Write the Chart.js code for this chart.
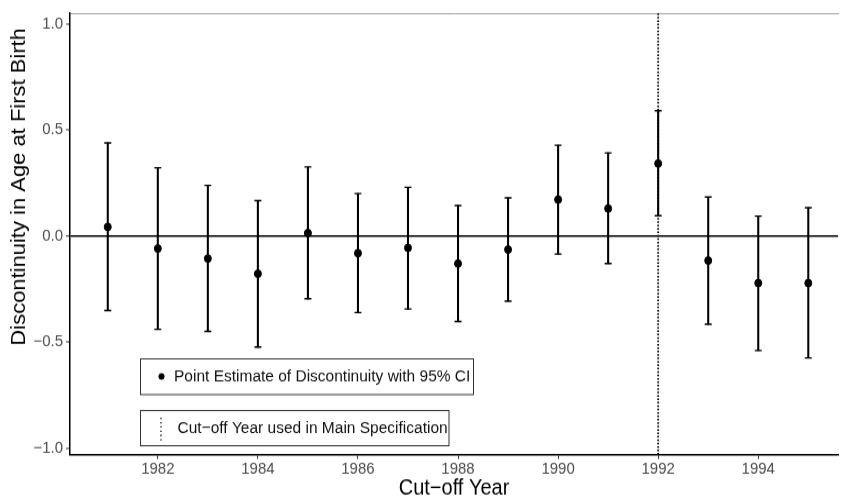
<!DOCTYPE html>
<html>
<head>
<meta charset="utf-8">
<script src="https://cdn.jsdelivr.net/npm/chart.js@4/dist/chart.umd.min.js"></script>
<style>
  html { margin: 0; padding: 0; overflow: hidden; background: #fff; }
  body { margin: 0; padding: 0; height: 499px; background: #fff; }
  #wrap { width: 843px; height: 454px; transform: scale(1, 1.0991); transform-origin: 0 0; }
  canvas { display: block; }
</style>
</head>
<body>
<div id="wrap"><canvas id="c" width="843" height="454"></canvas></div>
<script>
// Cut-off years and RD estimates with 95% confidence bounds
const years     = [1981, 1982, 1983, 1984, 1985, 1986, 1987, 1988, 1989, 1990, 1991, 1992, 1993, 1994, 1995];
const estimates = [0.043, -0.059, -0.106, -0.178, 0.014, -0.081, -0.056, -0.130, -0.064, 0.172, 0.130, 0.342, -0.116, -0.222, -0.222];
const ciUpper   = [0.439, 0.322, 0.239, 0.167, 0.326, 0.200, 0.230, 0.144, 0.180, 0.428, 0.392, 0.591, 0.184, 0.094, 0.133];
const ciLower   = [-0.351, -0.440, -0.450, -0.524, -0.296, -0.361, -0.344, -0.403, -0.307, -0.085, -0.130, 0.096, -0.416, -0.540, -0.575];
const mainCutoff = 1992;

// Axis ticks
const xTicks      = [1982, 1984, 1986, 1988, 1990, 1992, 1994];
const xTickLabels = ['1982', '1984', '1986', '1988', '1990', '1992', '1994'];
const yTicks      = [-1.0, -0.5, 0.0, 0.5, 1.0];
const yTickLabels = ['\u22121.0', '\u22120.5', '0.0', '0.5', '1.0'];

// Text
const xTitle = 'Cut\u2212off Year';
const yTitle = 'Discontinuity in Age at First Birth';
const legendLabels = ['Point Estimate of Discontinuity with 95% CI', 'Cut\u2212off Year used in Main Specification'];

const X_MIN = 1980.245, X_MAX = 1995.596;
const Y_MIN = -1.031, Y_MAX = 1.051;
const FONT = "'Liberation Sans', Arial, Helvetica, sans-serif";

const points = years.map((y, i) => ({ x: y, y: estimates[i] }));
const bars   = years.map((y, i) => ({ x: y, y: [ciLower[i], ciUpper[i]] }));
const caps   = years.flatMap((y, i) => [{ x: y, y: ciUpper[i] }, { x: y, y: ciLower[i] }]);

// Rotated y title and the two boxed legend keys
const decorations = {
  id: 'decorations',
  afterDraw(chart) {
    const ctx = chart.ctx;
    ctx.save();
    // y-axis title
    ctx.fillStyle = '#000';
    ctx.font = `20px ${FONT}`;
    ctx.textAlign = 'center';
    ctx.textBaseline = 'middle';
    ctx.translate(19, 170);
    ctx.rotate(-Math.PI / 2);
    ctx.fillText(yTitle, 0, 0);
    ctx.restore();

    ctx.save();
    ctx.strokeStyle = '#333';
    ctx.lineWidth = 1;
    ctx.strokeRect(140.5, 326.5, 333, 32.5);
    ctx.strokeRect(140.5, 373.5, 308.5, 32);

    ctx.fillStyle = '#000';
    ctx.beginPath();
    ctx.arc(161.5, 342.5, 3, 0, Math.PI * 2);
    ctx.fill();

    ctx.strokeStyle = '#000';
    ctx.lineWidth = 1.3;
    ctx.setLineDash([1.3, 2.6]);
    ctx.beginPath();
    ctx.moveTo(161, 380);
    ctx.lineTo(161, 401);
    ctx.stroke();
    ctx.setLineDash([]);

    ctx.font = `15.5px ${FONT}`;
    ctx.textAlign = 'left';
    ctx.textBaseline = 'middle';
    ctx.fillStyle = '#111';
    ctx.fillText(legendLabels[0], 174, 343);
    ctx.fillText(legendLabels[1], 177.5, 390);
    ctx.restore();
  }
};

new Chart(document.getElementById('c'), {
  type: 'scatter',
  data: {
    datasets: [
      {
        type: 'scatter',
        data: points,
        backgroundColor: '#000',
        borderColor: '#000',
        pointRadius: 3.5,
        pointHoverRadius: 3.5,
        order: 0
      },
      {
        type: 'scatter',
        data: caps,
        pointStyle: 'line',
        pointRadius: 3.5,
        pointHoverRadius: 3.5,
        borderColor: '#000',
        borderWidth: 1.4,
        order: 1
      },
      {
        type: 'bar',
        data: bars,
        backgroundColor: '#000',
        barThickness: 1.4,
        order: 2
      },
      {
        type: 'line',
        data: [{ x: mainCutoff, y: Y_MIN }, { x: mainCutoff, y: Y_MAX }],
        borderColor: '#000',
        borderWidth: 1.8,
        borderDash: [1.5, 1.6],
        borderCapStyle: 'butt',
        pointRadius: 0,
        order: 3
      }
    ]
  },
  options: {
    responsive: false,
    animation: false,
    devicePixelRatio: 1,
    layout: { padding: 0 },
    plugins: { legend: { display: false }, tooltip: { enabled: false } },
    scales: {
      x: {
        type: 'linear',
        position: 'bottom',
        min: X_MIN, max: X_MAX,
        offset: false,
        afterBuildTicks: s => { s.ticks = xTicks.map(v => ({ value: v })); },
        afterFit: s => { s.height = 40.4; },
        ticks: {
          callback: v => xTickLabels[xTicks.indexOf(v)],
          color: '#4d4d4d',
          font: { family: FONT, size: 15 },
          padding: 0,
          maxRotation: 0,
          autoSkip: false
        },
        grid: { display: true, drawOnChartArea: false, offset: false, color: 'rgba(0,0,0,0)', tickColor: '#333', tickLength: 4, tickWidth: 1 },
        border: { display: true, color: '#000', width: 1.5 },
        title: { display: true, text: xTitle, color: '#000', font: { family: FONT, size: 20, lineHeight: 1.0 }, padding: 0 }
      },
      x2: {
        type: 'linear',
        position: 'top',
        min: X_MIN, max: X_MAX,
        afterFit: s => { s.height = 6.6; },
        ticks: { display: false },
        grid: { display: false, drawTicks: false },
        border: { display: true, color: '#a0a0a0', width: 1 }
      },
      y: {
        type: 'linear',
        min: Y_MIN, max: Y_MAX,
        afterBuildTicks: s => { s.ticks = yTicks.map(v => ({ value: v })); },
        afterFit: s => { s.width = 70; },
        ticks: {
          callback: v => yTickLabels[yTicks.indexOf(v)],
          color: '#4d4d4d',
          font: { family: FONT, size: 15 },
          padding: 3
        },
        grid: {
          display: true,
          color: c => (c.tick && c.tick.value === 0 ? '#000' : 'rgba(0,0,0,0)'),
          lineWidth: c => (c.tick && c.tick.value === 0 ? 1.5 : 0),
          tickColor: '#333', tickLength: 4, tickWidth: 1
        },
        border: { display: true, color: '#000', width: 1.5 }
      }
    }
  },
  plugins: [decorations]
});
</script>
</body>
</html>
